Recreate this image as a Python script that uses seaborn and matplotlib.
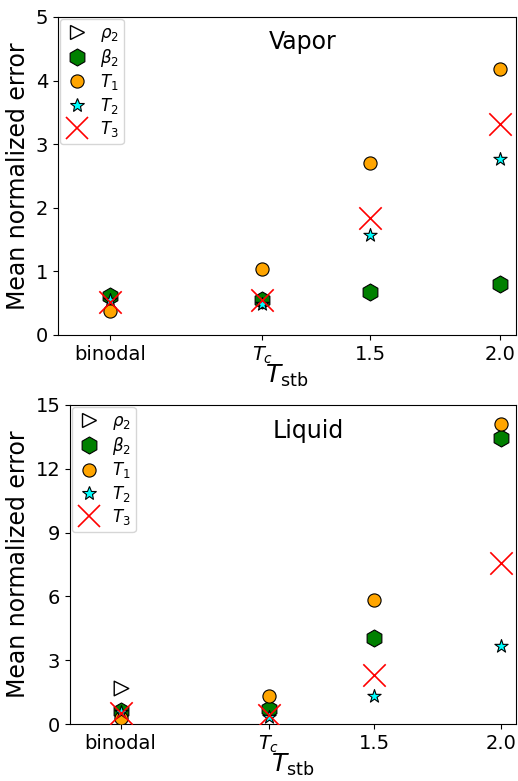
import numpy as np
import matplotlib
matplotlib.use('Agg')
import matplotlib.pyplot as plt
from matplotlib.lines import Line2D
import seaborn as sns

# x positions: binodal, Tc, 1.5, 2.0
t_stb = [0.5, 1.085, 1.5, 2.0]
tick_labels = ['binodal', r'$T_c$', '1.5', '2.0']

# Vapor panel (rho2 not visible in the figure, hidden behind other markers)
vap_rho2 = [np.nan, np.nan, np.nan, np.nan]
vap_beta2 = [0.62, 0.55, 0.68, 0.80]
vap_T1 = [0.38, 1.03, 2.71, 4.18]
vap_T2 = [0.55, 0.49, 1.58, 2.77]
vap_T3 = [0.52, 0.55, 1.84, 3.31]

# Liquid panel
liq_rho2 = [1.69, np.nan, np.nan, np.nan]
liq_beta2 = [0.62, 0.70, 4.06, 13.45]
liq_T1 = [0.30, 1.33, 5.83, 14.1]
liq_T2 = [0.55, 0.34, 1.33, 3.67]
liq_T3 = [0.50, 0.42, 2.30, 7.57]

series_style = [
    (r'$\rho_2$', dict(marker='>', s=110, facecolor='white', edgecolor='black', linewidth=1.0)),
    (r'$\beta_2$', dict(marker='h', s=150, color='green', edgecolor='black', linewidth=0.8)),
    (r'$T_1$', dict(marker='o', s=90, color='orange', edgecolor='black', linewidth=0.8)),
    (r'$T_2$', dict(marker='*', s=100, color='cyan', edgecolor='black', linewidth=0.8)),
    (r'$T_3$', dict(marker='x', s=260, color='red', linewidth=1.2)),
]


def legend_handle(lab, kw):
    face = kw.get('facecolor', kw.get('color'))
    edge = kw.get('edgecolor', kw.get('color'))
    return Line2D([], [], linestyle='none', marker=kw['marker'], markersize=np.sqrt(kw['s']),
                  markerfacecolor=face, markeredgecolor=edge,
                  markeredgewidth=kw['linewidth'], label=lab)


def draw_panel(ax, values, title, ymax, yticks):
    for (lab, kw), vals in zip(series_style, values):
        sns.scatterplot(x=t_stb, y=vals, ax=ax, zorder=3, **kw)
    ax.set_xlim(0.3, 2.06)
    ax.set_ylim(0, ymax)
    ax.set_yticks(yticks)
    ax.set_xticks(t_stb)
    ax.set_xticklabels(tick_labels)
    ax.tick_params(labelsize=14)
    ax.set_xlabel(r'$T_{\rm stb}$', fontsize=18, labelpad=-2)
    ax.set_ylabel('Mean normalized error', fontsize=17)
    ax.text(1.24, 0.92, title, fontsize=17, ha='center', va='center',
            transform=ax.get_xaxis_transform())
    handles = [legend_handle(lab, kw) for lab, kw in series_style]
    ax.legend(handles=handles, loc='upper left', fontsize=12, borderaxespad=0.1,
              borderpad=0.3, handlelength=1.5, handletextpad=0.6, labelspacing=0.2)


fig = plt.figure(figsize=(5.18, 7.81), dpi=100)
ax1 = fig.add_axes([58 / 518, 1 - 335 / 781, 458 / 518, 318 / 781])
ax2 = fig.add_axes([70 / 518, 1 - 724 / 781, 446 / 518, 319 / 781])

draw_panel(ax1, [vap_rho2, vap_beta2, vap_T1, vap_T2, vap_T3], 'Vapor', 5, range(0, 6))
draw_panel(ax2, [liq_rho2, liq_beta2, liq_T1, liq_T2, liq_T3], 'Liquid', 15, range(0, 16, 3))

fig.savefig('out.png', dpi=100)
